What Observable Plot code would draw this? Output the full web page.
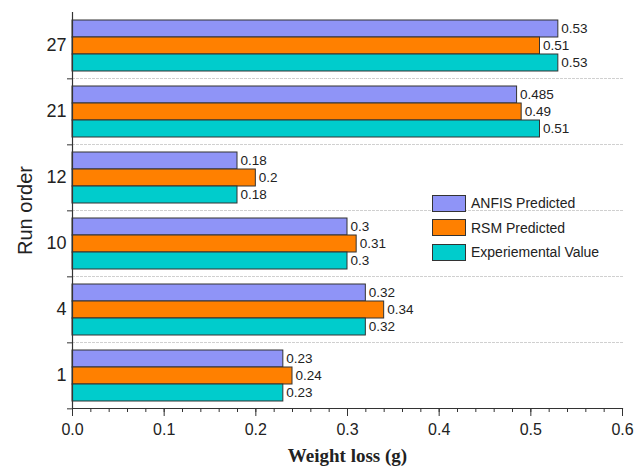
<!DOCTYPE html>
<html><head><meta charset="utf-8">
<script src="https://cdn.jsdelivr.net/npm/d3@7"></script>
<script src="https://cdn.jsdelivr.net/npm/@observablehq/plot@0.6"></script>
<style>
body{margin:0;background:#fff;font-family:Arial,"Liberation Sans",sans-serif;}
#wrap{position:relative;width:644px;height:470px;}
#legend{position:absolute;left:432px;top:191px;font-size:14px;color:#222;}
.item{display:flex;align-items:center;height:24.5px;}
.sw{width:34px;height:17px;border:1px solid #333;box-sizing:border-box;margin-right:5px;}
[aria-label="x-axis label"] text{font-family:"Liberation Serif","Times New Roman",serif;font-weight:bold;font-size:19px;}
[aria-label="fy-axis label"] text{font-size:20px;}
</style></head><body><div id="wrap"></div>
<script>
const runs = ["27","21","12","10","4","1"];
const series = ["ANFIS Predicted","RSM Predicted","Experiemental Value"];
const colors = ["#8f94f7","#ff8000","#00cccc"];
const anfis = [0.53,0.485,0.18,0.3,0.32,0.23];
const rsm = [0.51,0.49,0.2,0.31,0.34,0.24];
const expv = [0.53,0.51,0.18,0.3,0.32,0.23];
const majorTicks = [0,0.1,0.2,0.3,0.4,0.5,0.6];
const minorTicks = d3.range(0, 0.601, 0.02);

const data = runs.flatMap((r,i)=>[
  {run:r, series:series[0], value:anfis[i]},
  {run:r, series:series[1], value:rsm[i]},
  {run:r, series:series[2], value:expv[i]}
]);
const W=644, H=470, mt=10, mb=60;
const step = (H-mt-mb)/runs.length;

const chart = Plot.plot({
  width:W, height:H, marginTop:mt, marginBottom:mb, marginLeft:72, marginRight:22,
  style:{fontFamily:"Arial, 'Liberation Sans', sans-serif", fontSize:"13px", color:"#222", background:"#fff"},
  x:{domain:[0,0.6]},
  y:{domain:series, paddingInner:0, paddingOuter:0.38, axis:null},
  fy:{domain:runs, padding:0},
  color:{domain:series, range:colors},
  marks:[
    Plot.frame({anchor:"bottom", stroke:"#d0d0d0", strokeDasharray:"2,2"}),
    Plot.barX(data,{x:"value", y:"series", fy:"run", fill:"series", stroke:"#333", strokeWidth:1}),
    Plot.text(data,{x:"value", y:"series", fy:"run", text:d=>String(d.value), textAnchor:"start", dx:3, fontSize:13.5, fill:"#222"}),
    Plot.ruleX([0], {stroke:"#333", strokeWidth:1.2}),
    Plot.frame({anchor:"bottom", facetAnchor:"bottom", stroke:"#333", strokeWidth:1.2}),
    Plot.axisX({ticks:minorTicks, tickSize:4, tickFormat:()=>"", label:null, stroke:"#333"}),
    Plot.axisX({ticks:majorTicks, tickSize:8, tickFormat:d=>d.toFixed(1), fontSize:16, tickPadding:7, label:"Weight loss (g)", labelAnchor:"center", labelArrow:"none", labelOffset:53, stroke:"#333"}),
    Plot.axisFy({anchor:"left", tickSize:0, tickPadding:6, fontSize:18, label:"Run order", labelAnchor:"center", labelArrow:"none", labelOffset:55}),
    Plot.axisFy({anchor:"left", tickSize:5, tickFormat:()=>"", dy:step/2, label:null, stroke:"#333"})
  ]
});
const wrap = document.getElementById("wrap");
wrap.appendChild(chart);
const legend = document.createElement("div");
legend.id = "legend";
series.forEach((s,i)=>{
  const it = document.createElement("div"); it.className="item";
  const sw = document.createElement("div"); sw.className="sw"; sw.style.background=colors[i];
  const tx = document.createElement("span"); tx.textContent=s;
  it.appendChild(sw); it.appendChild(tx); legend.appendChild(it);
});
wrap.appendChild(legend);
</script></body></html>
